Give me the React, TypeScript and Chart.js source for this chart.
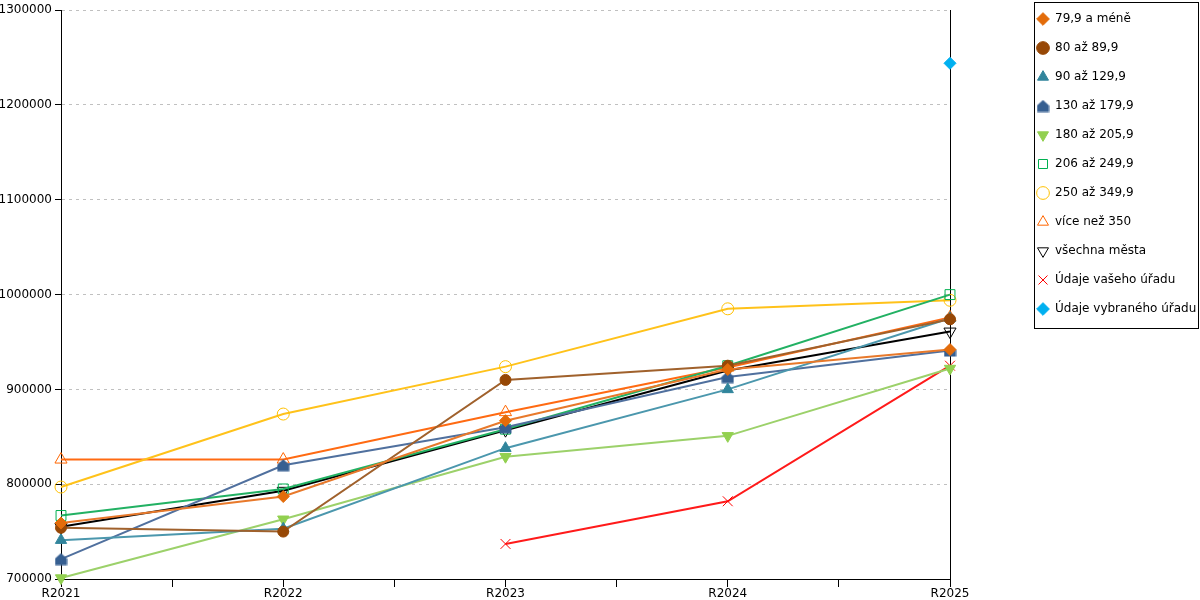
import { useEffect, useRef } from "react"
import { Chart, registerables } from "chart.js"

Chart.register(...registerables)

const years = ["R2021", "R2022", "R2023", "R2024", "R2025"]

const le79 = [759000, 787000, 867000, 921000, 942000]
const a80 = [754000, 750000, 910000, 925000, 974000]
const a90 = [741000, 753000, 838000, 900000, 975000]
const a130 = [721000, 820000, 860000, 913000, 941000]
const a180 = [701000, 763000, 829000, 851000, 922000]
const a206 = [767000, 795000, 858000, 925000, 1000000]
const a250 = [797000, 874000, 924000, 985000, 994000]
const gt350 = [826000, 826000, 876000, 923000, 976000]
const allCities = [755000, 793000, 857000, 920000, 961000]
const yourOffice = [null, null, 737000, 782000, 925000]
const chosenOffice = [null, null, null, null, 1244000]

const FONT = "'DejaVu Sans', Verdana, sans-serif"
const LEGEND_PAD = 17

// triangle on top of a square, like the "130 až 179,9" marker
function houseMarker(color: string) {
  const c = document.createElement("canvas")
  c.width = 13
  c.height = 13
  const g = c.getContext("2d")!
  g.fillStyle = color
  g.beginPath()
  g.moveTo(6.5, 0.5)
  g.lineTo(12.5, 6)
  g.lineTo(12.5, 12.5)
  g.lineTo(0.5, 12.5)
  g.lineTo(0.5, 6)
  g.closePath()
  g.fill()
  return c
}

// legend sits higher than the plot top and gets a frame
const legendBox = {
  id: "legendBox",
  afterLayout(chart: any) {
    const l = chart.legend
    if (!l) return
    l.top -= 14
    l.bottom -= 14
  },
  afterDraw(chart: any) {
    const l = chart.legend
    if (!l) return
    const n = chart.data.datasets.length
    const left = l.left + LEGEND_PAD - 3
    const top = l.top + 6
    const bottom = l.top + LEGEND_PAD + 29 * (n - 1) + 25
    const right = chart.width - 2
    const ctx = chart.ctx
    ctx.save()
    ctx.strokeStyle = "#000"
    ctx.lineWidth = 1
    ctx.strokeRect(Math.round(left) + 0.5, Math.round(top) + 0.5, Math.round(right - left), Math.round(bottom - top))
    ctx.restore()
  },
}

function series(label: string, values: (number | null)[], color: string, extra: any) {
  return {
    label,
    data: values.map((v, i) => ({ x: i, y: v })),
    borderColor: color,
    backgroundColor: color,
    pointBorderColor: color,
    pointBackgroundColor: color,
    borderWidth: 2,
    pointBorderWidth: 1,
    pointRadius: 6,
    clip: false,
    ...extra,
  }
}

export default function App() {
  const canvasRef = useRef<HTMLCanvasElement>(null)

  useEffect(() => {
    document.body.style.margin = "0"
    const canvas = canvasRef.current
    if (!canvas) return
    Chart.defaults.font.family = FONT
    Chart.defaults.font.size = 12
    Chart.defaults.color = "#000"

    const chart = new Chart(canvas, {
      type: "line",
      data: {
        datasets: [
          series("79,9 a méně", le79, "#E8792B", { pointStyle: "rectRot", pointBorderColor: "#E36C0A", pointBackgroundColor: "#E36C0A" }),
          series("80 až 89,9", a80, "#A0612C", { pointStyle: "circle", pointRadius: 5.5, pointBorderColor: "#974806", pointBackgroundColor: "#974806" }),
          series("90 až 129,9", a90, "#4B97AD", { pointStyle: "triangle", pointRadius: 6.5, pointBorderColor: "#31859C", pointBackgroundColor: "#31859C" }),
          series("130 až 179,9", a130, "#50709E", { pointStyle: houseMarker("#365F91") }),
          series("180 až 205,9", a180, "#9CD16A", { pointStyle: "triangle", pointRotation: 180, pointRadius: 6.5, pointBorderColor: "#92D050", pointBackgroundColor: "#92D050" }),
          series("206 až 249,9", a206, "#22B163", { pointStyle: "rect", pointRadius: 7, pointBackgroundColor: "transparent", pointBorderColor: "#00B050" }),
          series("250 až 349,9", a250, "#FFC21A", { pointStyle: "circle", pointBackgroundColor: "transparent", pointBorderColor: "#FFC000" }),
          series("více než 350", gt350, "#FF6A12", { pointStyle: "triangle", pointRadius: 7, pointBackgroundColor: "transparent", pointBorderColor: "#FF6600" }),
          series("všechna města", allCities, "#000000", { pointStyle: "triangle", pointRotation: 180, pointRadius: 7, pointBackgroundColor: "transparent", pointBorderColor: "#000" }),
          series("Údaje vašeho úřadu", yourOffice, "#FF1A1A", { pointStyle: "crossRot", pointRadius: 7, pointBorderColor: "#FF0000" }),
          series("Údaje vybraného úřadu", chosenOffice, "#00B0F0", { pointStyle: "rectRot", showLine: false }),
        ],
      },
      options: {
        animation: false,
        responsive: true,
        maintainAspectRatio: false,
        layout: { padding: { top: 10, left: 0, right: 0, bottom: 0 } },
        plugins: {
          tooltip: { enabled: false },
          legend: {
            position: "right",
            align: "start",
            maxWidth: 180,
            labels: {
              usePointStyle: true,
              boxHeight: 9,
              padding: LEGEND_PAD,
              color: "#000",
              font: { family: FONT, size: 12 },
            },
          },
        },
        scales: {
          x: {
            type: "linear",
            min: 0,
            max: years.length - 1,
            afterBuildTicks: (scale: any) => {
              scale.ticks = []
              for (let i = 0; i <= (years.length - 1) * 2; i++) scale.ticks.push({ value: i / 2 })
            },
            afterFit: (scale: any) => {
              scale.height = 21
            },
            ticks: {
              autoSkip: false,
              maxRotation: 0,
              padding: 0,
              color: "#000",
              callback: (v: any) => (Number.isInteger(Number(v)) ? years[Number(v)] : ""),
            },
            grid: { drawOnChartArea: false, tickLength: 8, color: "#000" },
            border: { display: true, color: "#000", width: 1 },
          },
          y: {
            min: 700000,
            max: 1300000,
            afterFit: (scale: any) => {
              scale.width = 61
            },
            ticks: { stepSize: 100000, padding: 3, color: "#000", callback: (v: any) => String(v) },
            grid: { color: "#C0C0C0", tickColor: "#000", tickLength: 6 },
            border: { display: true, color: "#000", width: 1, dash: [3, 4] },
          },
          y2: {
            position: "right",
            min: 700000,
            max: 1300000,
            afterFit: (scale: any) => {
              scale.width = 70
            },
            ticks: { display: false },
            grid: { drawOnChartArea: false, drawTicks: false },
            border: { display: true, color: "#000", width: 1 },
          },
        },
      },
      plugins: [legendBox],
    })

    return () => chart.destroy()
  }, [])

  return (
    <div style={{ width: 1200, height: 600, position: "relative" }}>
      <canvas ref={canvasRef} />
    </div>
  )
}
